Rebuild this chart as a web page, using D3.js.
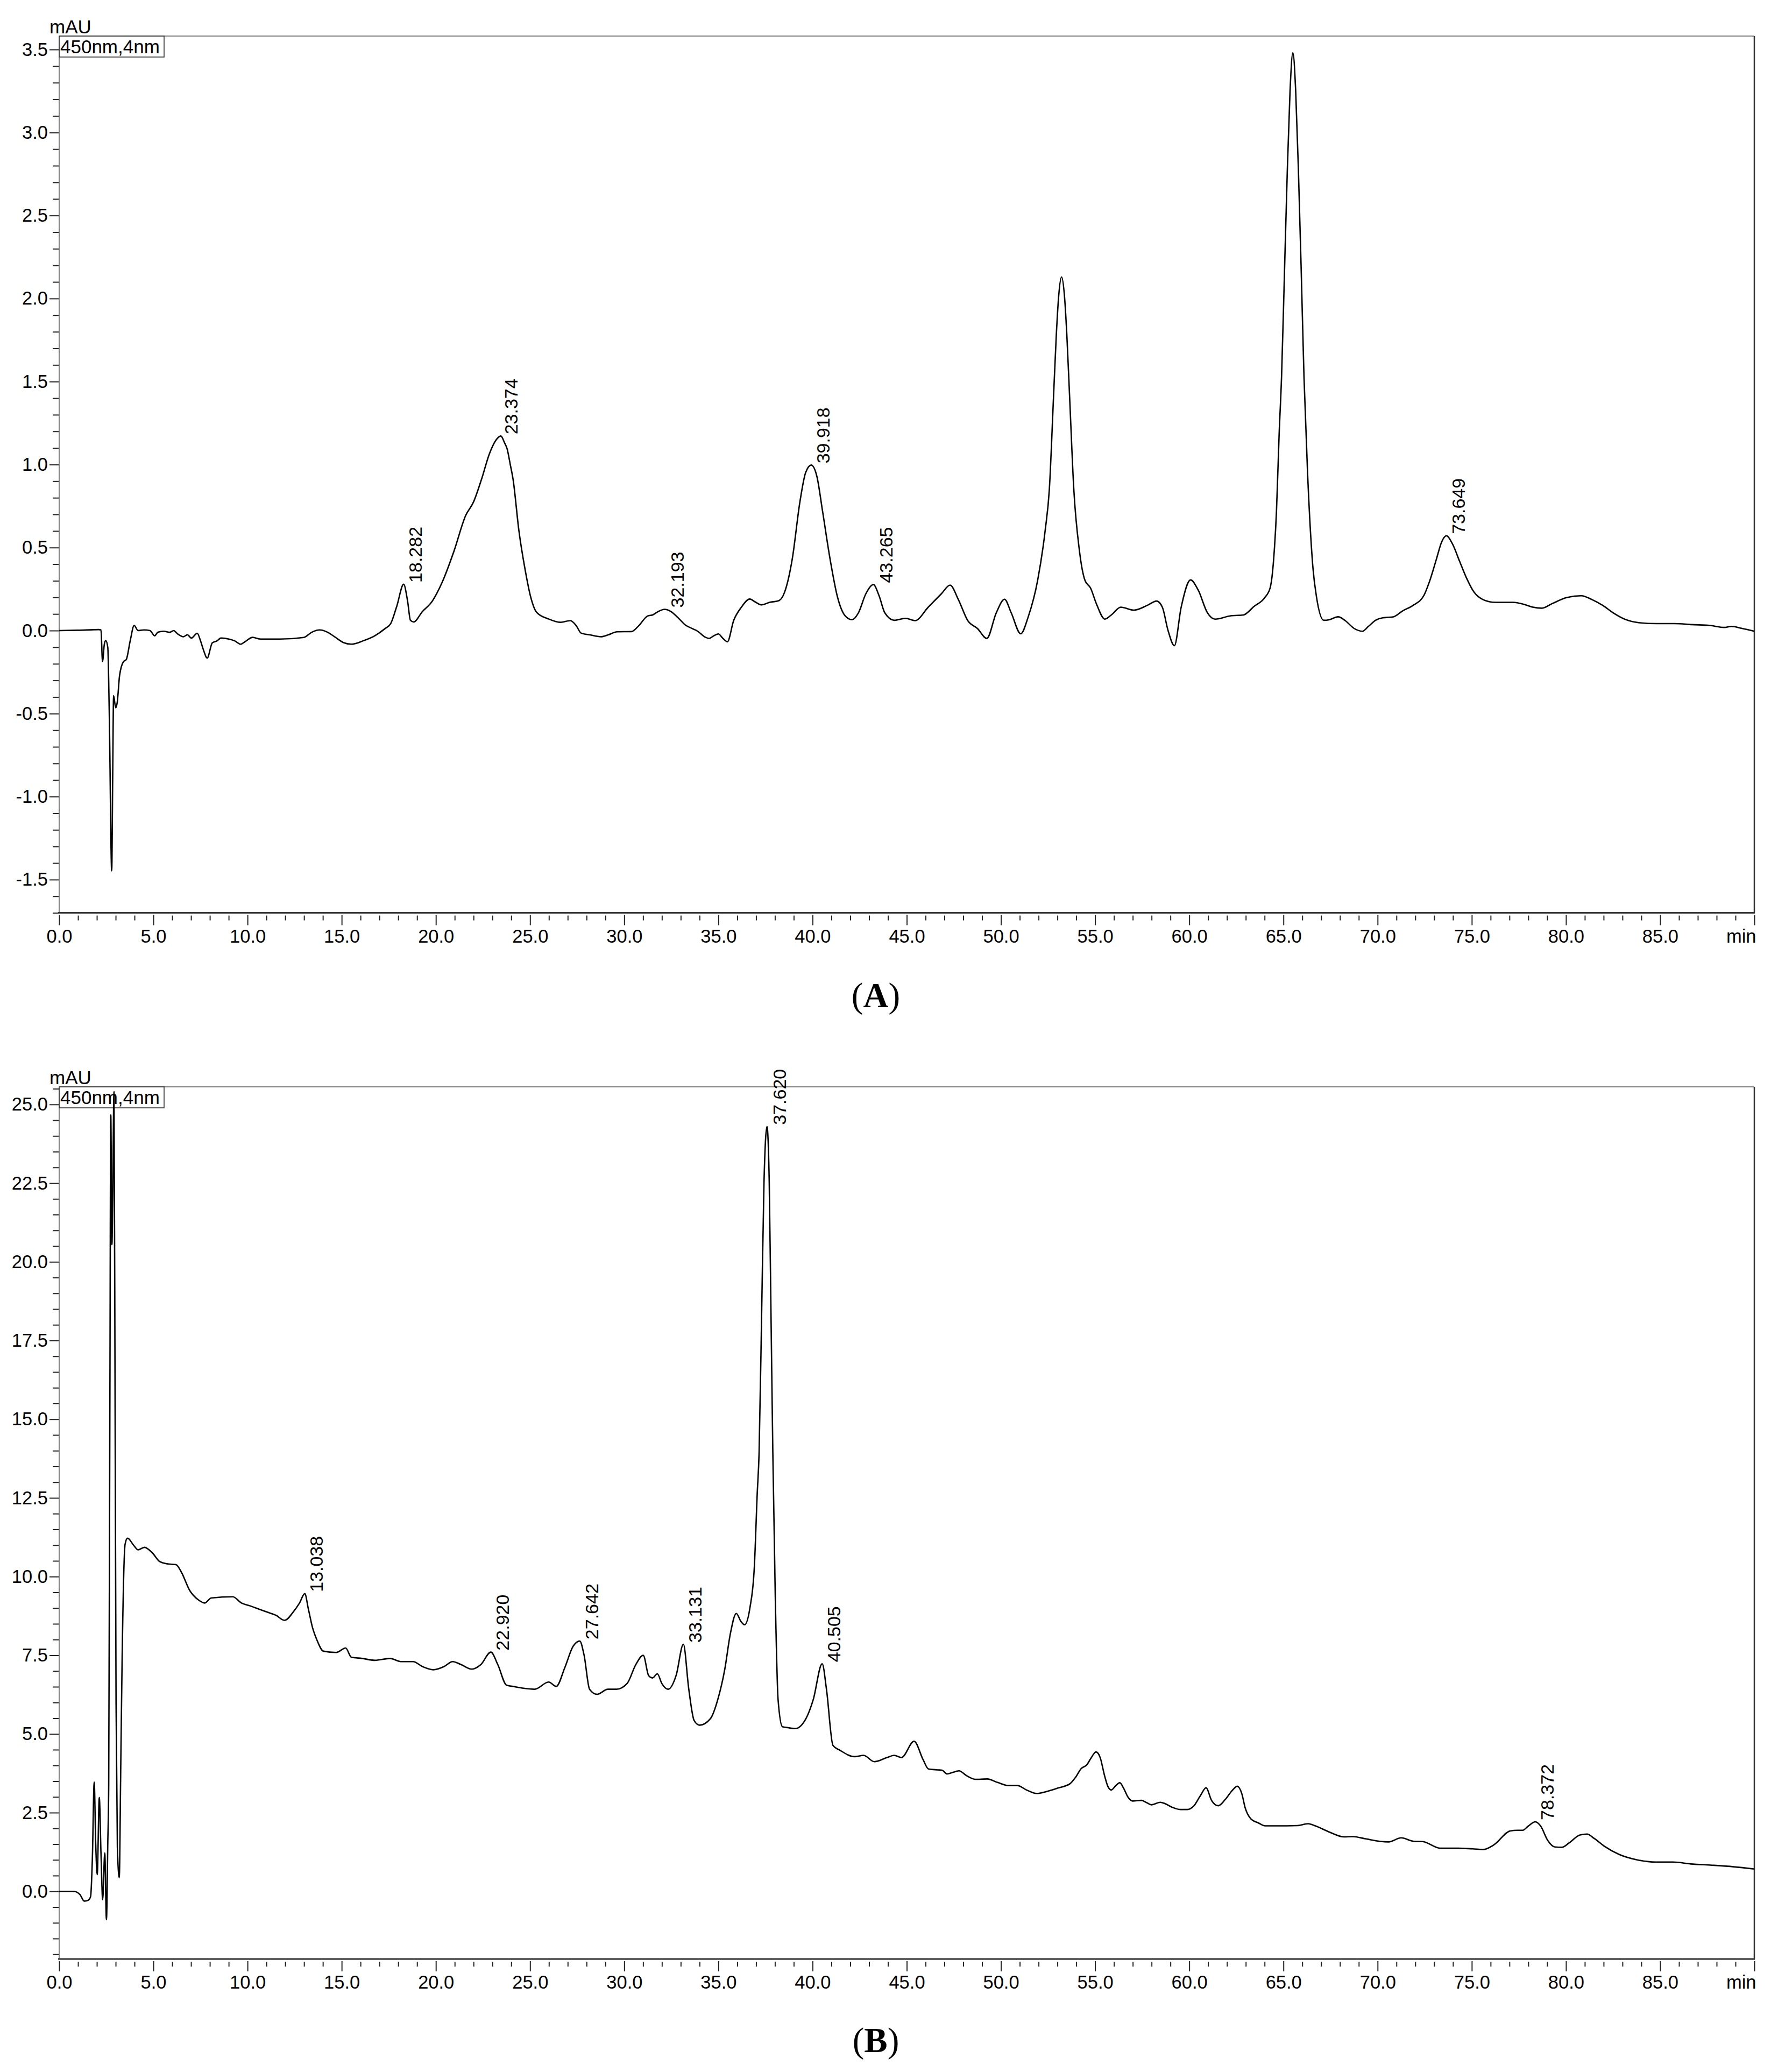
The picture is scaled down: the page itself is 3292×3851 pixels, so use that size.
<!DOCTYPE html>
<html>
<head>
<meta charset="utf-8">
<script src="https://cdn.jsdelivr.net/npm/d3@7"></script>
<style>
  html, body { margin: 0; padding: 0; background: #ffffff; }
  svg { display: block; }
</style>
</head>
<body>
<svg id="chart" width="3292" height="3851"></svg>
<script>
// ---------------- DATA ----------------
// Panel A: retention time (min) and absorbance (mAU)
const timeA = [0.00,1.00,2.10,2.22,2.30,2.40,2.47,2.58,2.66,2.79,2.84,2.89,3.00,3.08,3.21,3.42,3.56,3.77,3.98,4.19,4.50,4.82,5.07,5.24,5.55,5.87,6.08,6.29,6.60,6.81,7.02,7.33,7.50,7.65,7.86,8.13,8.38,8.59,9.01,9.32,9.64,9.85,10.27,10.69,11.73,12.99,13.41,13.83,14.25,14.67,15.09,15.51,16.13,16.76,17.29,17.60,17.92,18.29,18.50,18.65,18.82,19.28,19.80,20.33,20.95,21.58,22.00,22.42,22.84,23.26,23.45,23.65,23.78,23.95,24.10,24.41,24.73,25.04,25.35,25.98,26.61,27.14,27.45,27.71,28.19,28.76,29.14,29.62,30.38,30.76,31.24,31.52,31.81,32.14,32.48,32.86,33.24,33.62,33.90,34.29,34.50,34.76,35.00,35.24,35.48,35.81,36.19,36.67,36.92,37.28,37.72,38.22,38.52,38.92,39.33,39.63,39.93,40.23,40.53,40.93,41.33,41.73,42.09,42.43,42.83,43.23,43.53,43.84,44.34,44.94,45.44,46.14,46.84,47.30,47.74,48.24,48.75,49.25,49.75,50.19,50.55,51.05,51.45,51.95,52.35,52.57,52.79,52.94,53.07,53.22,53.37,53.50,53.65,53.87,54.16,54.46,54.76,55.06,55.52,55.86,56.36,57.06,57.77,58.27,58.57,58.87,59.21,59.57,60.07,60.47,60.97,61.37,62.20,62.87,63.44,64.01,64.29,64.48,64.63,64.77,64.90,65.05,65.20,65.35,65.50,65.65,65.80,65.95,66.09,66.28,66.57,66.76,67.14,67.42,67.90,68.28,68.75,69.19,69.51,69.89,70.27,70.84,71.32,71.88,72.45,72.74,73.12,73.40,73.65,73.97,74.35,74.73,75.11,75.59,76.25,77.20,77.77,78.25,78.72,79.29,80.05,80.81,81.38,81.95,82.52,83.18,83.85,84.80,85.75,86.70,87.64,88.40,88.78,89.35,90.00];
const signalA = [0.000,0.002,0.006,0.004,-0.186,-0.080,-0.060,-0.100,-0.500,-1.447,-0.900,-0.392,-0.465,-0.434,-0.268,-0.186,-0.175,-0.062,0.031,0.000,0.004,0.000,-0.031,-0.010,-0.004,-0.010,0.000,-0.020,-0.037,-0.025,-0.045,-0.016,-0.060,-0.113,-0.165,-0.074,-0.062,-0.045,-0.051,-0.062,-0.082,-0.068,-0.041,-0.051,-0.051,-0.041,-0.010,0.004,-0.010,-0.041,-0.072,-0.082,-0.062,-0.031,0.011,0.042,0.145,0.279,0.176,0.062,0.052,0.114,0.176,0.290,0.475,0.693,0.775,0.910,1.064,1.157,1.172,1.130,1.096,1.000,0.910,0.600,0.372,0.200,0.110,0.070,0.050,0.060,0.030,-0.015,-0.026,-0.037,-0.026,-0.007,-0.006,0.028,0.088,0.095,0.115,0.128,0.115,0.077,0.034,0.012,-0.004,-0.039,-0.047,-0.031,-0.020,-0.047,-0.067,0.061,0.136,0.190,0.175,0.155,0.170,0.181,0.233,0.430,0.777,0.951,0.997,0.928,0.719,0.430,0.199,0.089,0.066,0.106,0.222,0.277,0.210,0.106,0.062,0.074,0.060,0.141,0.222,0.274,0.187,0.060,0.013,-0.047,0.106,0.189,0.106,-0.019,0.083,0.303,0.604,0.850,1.400,1.780,2.020,2.130,2.020,1.780,1.400,0.850,0.488,0.303,0.256,0.164,0.069,0.094,0.141,0.123,0.152,0.178,0.141,0.002,-0.091,0.141,0.305,0.245,0.106,0.069,0.089,0.094,0.146,0.199,0.256,0.430,0.720,1.180,1.530,2.140,2.750,3.250,3.480,3.250,2.750,2.140,1.530,0.951,0.372,0.199,0.062,0.065,0.083,0.060,0.013,-0.004,0.025,0.062,0.077,0.083,0.118,0.152,0.210,0.291,0.430,0.534,0.571,0.523,0.418,0.314,0.233,0.187,0.170,0.170,0.158,0.141,0.135,0.164,0.199,0.210,0.187,0.152,0.106,0.066,0.048,0.042,0.042,0.036,0.031,0.019,0.025,0.013,-0.004];

// Panel B
const timeB = [0.00,0.76,1.10,1.33,1.55,1.67,1.76,1.86,1.94,2.02,2.13,2.22,2.31,2.42,2.51,2.58,2.63,2.69,2.74,2.80,2.84,2.91,2.97,3.02,3.09,3.19,3.27,3.34,3.50,3.63,3.96,4.19,4.53,4.98,5.33,5.79,6.20,6.48,6.93,7.39,7.73,8.07,9.22,9.68,10.14,10.59,11.05,11.51,11.97,12.42,12.76,13.04,13.23,13.45,13.68,14.03,14.71,15.21,15.51,16.08,16.77,17.57,18.14,18.79,19.29,19.86,20.43,20.89,21.35,21.91,22.38,22.92,23.29,23.75,24.09,25.24,25.99,26.39,26.84,27.29,27.64,27.87,28.16,28.56,29.13,29.58,30.16,30.61,31.01,31.30,31.50,31.76,32.00,32.33,32.76,33.14,33.43,33.71,34.00,34.58,34.96,35.34,35.63,35.95,36.20,36.39,36.68,36.91,37.06,37.16,37.30,37.42,37.58,37.70,37.80,37.89,38.02,38.17,38.40,38.69,39.07,39.65,40.03,40.51,40.74,41.08,41.46,42.23,42.71,43.28,43.95,44.33,44.72,45.39,45.87,46.15,46.63,46.86,47.15,47.45,47.78,48.16,48.63,49.28,49.82,50.41,50.88,51.36,51.89,52.42,53.02,53.67,53.96,54.26,54.56,54.77,55.05,55.27,55.50,55.68,55.86,56.10,56.31,56.51,56.75,56.98,57.46,57.73,57.99,58.46,58.70,59.06,59.53,59.89,60.24,60.60,60.89,61.19,61.54,61.90,62.26,62.55,62.79,62.97,63.26,63.68,64.03,64.63,65.74,66.31,66.69,67.45,68.21,68.68,69.35,70.11,70.58,71.25,71.91,72.39,73.33,74.28,75.04,75.61,76.18,77.04,77.42,77.70,77.99,78.37,78.65,79.03,79.41,79.79,80.17,80.74,81.12,81.50,82.07,82.83,83.78,84.73,85.68,86.63,87.77,88.91,90.00];
const signalB = [0.00,0.00,-0.10,-0.31,-0.28,-0.16,1.00,3.47,1.50,0.53,2.98,1.20,-0.26,1.22,-0.90,1.50,3.38,15.00,24.67,20.55,22.00,25.40,15.15,6.00,1.41,0.43,4.00,7.30,11.03,11.22,10.99,10.85,10.93,10.73,10.48,10.40,10.38,10.15,9.56,9.26,9.16,9.32,9.36,9.16,9.07,8.97,8.87,8.77,8.61,8.87,9.16,9.46,8.97,8.38,7.99,7.63,7.59,7.73,7.44,7.40,7.34,7.40,7.30,7.30,7.14,7.04,7.14,7.30,7.20,7.06,7.20,7.60,7.20,6.55,6.51,6.42,6.65,6.51,7.10,7.79,7.95,7.50,6.42,6.26,6.42,6.42,6.61,7.20,7.50,6.85,6.78,6.91,6.60,6.42,6.87,7.85,6.41,5.43,5.28,5.49,6.08,7.06,8.17,8.83,8.57,8.47,9.03,10.33,12.62,13.93,18.50,22.50,24.30,22.50,18.00,13.93,9.35,6.08,5.23,5.20,5.17,5.49,6.08,7.23,6.41,4.64,4.48,4.28,4.32,4.12,4.25,4.32,4.25,4.77,4.18,3.89,3.86,3.85,3.73,3.78,3.83,3.68,3.56,3.57,3.46,3.36,3.36,3.22,3.11,3.17,3.28,3.42,3.62,3.90,4.02,4.22,4.43,4.25,3.68,3.33,3.22,3.36,3.45,3.28,2.99,2.87,2.89,2.82,2.75,2.83,2.79,2.68,2.60,2.60,2.71,3.05,3.29,2.88,2.72,2.91,3.19,3.34,3.10,2.65,2.31,2.17,2.08,2.08,2.09,2.15,2.08,1.88,1.73,1.74,1.67,1.59,1.57,1.70,1.59,1.58,1.37,1.37,1.35,1.33,1.48,1.92,1.94,1.94,2.07,2.21,2.08,1.62,1.41,1.40,1.54,1.79,1.82,1.68,1.42,1.17,1.00,0.93,0.93,0.87,0.83,0.78,0.71];

// Peak annotations (retention time, apex height)
const peakTimesA = [18.282, 23.374, 32.193, 39.918, 43.265, 73.649];
const peakHeightsA = [0.279, 1.172, 0.128, 0.997, 0.277, 0.571];
const peakTimesB = [13.038, 22.920, 27.642, 33.131, 37.620, 40.505, 78.372];
const peakHeightsB = [9.46, 7.60, 7.95, 7.85, 24.30, 7.23, 2.21];

// Ticks
const xTicks = [0,5,10,15,20,25,30,35,40,45,50,55,60,65,70,75,80,85,90];
const xTickLabels = ["0.0","5.0","10.0","15.0","20.0","25.0","30.0","35.0","40.0","45.0","50.0","55.0","60.0","65.0","70.0","75.0","80.0","85.0","min"];
const yTicksA = [-1.5,-1.0,-0.5,0.0,0.5,1.0,1.5,2.0,2.5,3.0,3.5];
const yTickLabelsA = ["-1.5","-1.0","-0.5","0.0","0.5","1.0","1.5","2.0","2.5","3.0","3.5"];
const yTicksB = [0,2.5,5,7.5,10,12.5,15,17.5,20,22.5,25];
const yTickLabelsB = ["0.0","2.5","5.0","7.5","10.0","12.5","15.0","17.5","20.0","22.5","25.0"];

const unitLabel = "mAU";
const detectorLabel = "450nm,4nm";
const panelLetters = ["A", "B"];

// ---------------- DRAW ----------------
const svg = d3.select("#chart");
svg.append("rect").attr("width", 3292).attr("height", 3851).attr("fill", "#ffffff");

const FONT = "'Liberation Sans', Arial, Helvetica, sans-serif";

function range(a, b, step) {
  const out = [];
  const n = Math.round((b - a) / step);
  for (let i = 0; i <= n; i++) out.push(+(a + i * step).toFixed(4));
  return out;
}

function drawPanel(cfg) {
  const g = svg.append("g");
  const x = d3.scaleLinear().domain([0, 90]).range([cfg.left, cfg.right]);
  const y = d3.scaleLinear().domain(cfg.yDomain).range([cfg.bottom, cfg.top]);

  // minor x ticks
  const xMinor = range(0, 90, 1).filter(v => v % 5 !== 0);
  g.append("g")
    .attr("transform", `translate(0,${cfg.bottom + 5})`)
    .call(d3.axisBottom(x).tickValues(xMinor).tickSize(9).tickFormat(""))
    .call(s => s.select(".domain").remove())
    .call(s => s.selectAll("line").attr("stroke", "#222").attr("stroke-width", 2));

  // major x ticks
  const xAx = g.append("g")
    .attr("transform", `translate(0,${cfg.bottom + 4})`)
    .call(d3.axisBottom(x).tickValues(xTicks).tickSize(19).tickPadding(8)
      .tickFormat((d, i) => xTickLabels[i]));
  xAx.select(".domain").remove();
  xAx.selectAll("line").attr("stroke", "#222").attr("stroke-width", 2);
  xAx.selectAll("text").attr("font-family", FONT).attr("font-size", 34.5).attr("fill", "#000");
  xAx.selectAll(".tick").filter(d => d === 90).select("text")
    .attr("text-anchor", "end").attr("x", 3);

  // minor y ticks
  const yMinor = range(cfg.minorStart, cfg.minorEnd, cfg.minorStep)
    .filter(v => !cfg.yTicks.some(t => Math.abs(t - v) < 1e-6));
  g.append("g")
    .attr("transform", `translate(${cfg.left},0)`)
    .call(d3.axisLeft(y).tickValues(yMinor).tickSize(12).tickFormat(""))
    .call(s => s.select(".domain").remove())
    .call(s => s.selectAll("line").attr("stroke", "#222").attr("stroke-width", 2));

  // major y ticks
  const yAx = g.append("g")
    .attr("transform", `translate(${cfg.left},0)`)
    .call(d3.axisLeft(y).tickValues(cfg.yTicks).tickSize(18).tickPadding(3)
      .tickFormat((d, i) => cfg.yTickLabels[i]));
  yAx.select(".domain").remove();
  yAx.selectAll("line").attr("stroke", "#222").attr("stroke-width", 2);
  yAx.selectAll("text").attr("font-family", FONT).attr("font-size", 34.5).attr("fill", "#000");

  // frame
  g.append("line").attr("x1", cfg.left).attr("x2", cfg.right).attr("y1", cfg.top).attr("y2", cfg.top)
    .attr("stroke", "#808080").attr("stroke-width", 2);
  g.append("line").attr("x1", cfg.left).attr("x2", cfg.left).attr("y1", cfg.top).attr("y2", cfg.bottom)
    .attr("stroke", "#808080").attr("stroke-width", 2);
  g.append("line").attr("x1", cfg.right).attr("x2", cfg.right).attr("y1", cfg.top).attr("y2", cfg.bottom)
    .attr("stroke", "#333").attr("stroke-width", 2.5);
  g.append("line").attr("x1", cfg.left - 2).attr("x2", cfg.right + 1).attr("y1", cfg.bottom).attr("y2", cfg.bottom)
    .attr("stroke", "#333").attr("stroke-width", 3);

  // unit label and detector box
  g.append("text").attr("x", cfg.left - 18).attr("y", cfg.top - 5)
    .attr("font-family", FONT).attr("font-size", 35).attr("fill", "#000").text(unitLabel);
  g.append("rect").attr("x", cfg.left).attr("y", cfg.top).attr("width", 195).attr("height", 39)
    .attr("fill", "none").attr("stroke", "#333").attr("stroke-width", 1.6);
  g.append("text").attr("x", cfg.left + 2).attr("y", cfg.top + 32)
    .attr("font-family", FONT).attr("font-size", 35).attr("fill", "#000").text(detectorLabel);

  // trace
  const pts = cfg.time.map((t, i) => [t, cfg.signal[i]]);
  g.append("path").datum(pts)
    .attr("fill", "none").attr("stroke", "#000").attr("stroke-width", 2.6)
    .attr("stroke-linejoin", "round")
    .attr("d", d3.line().x(d => x(d[0])).y(d => y(d[1])).curve(d3.curveMonotoneX));

  // peak labels
  cfg.peakTimes.forEach((t, i) => {
    const px = x(t) + 34, py = y(cfg.peakHeights[i]) - 3;
    g.append("text")
      .attr("transform", `translate(${px},${py}) rotate(-90)`)
      .attr("font-family", FONT).attr("font-size", 34).attr("fill", "#000")
      .text(t.toFixed(3));
  });

  // panel letter
  const lt = g.append("text").attr("x", 1628).attr("y", cfg.letterY)
    .attr("text-anchor", "middle").attr("font-family", "'Liberation Serif', 'Times New Roman', serif")
    .attr("font-size", 65).attr("fill", "#000");
  lt.append("tspan").text("(");
  lt.append("tspan").attr("font-weight", "bold").text(cfg.letter);
  lt.append("tspan").text(")");
}

drawPanel({
  left: 110, right: 3261, top: 67, bottom: 1696.6,
  yDomain: [-1.7, 3.581],
  yTicks: yTicksA, yTickLabels: yTickLabelsA,
  minorStart: -1.7, minorEnd: 3.5, minorStep: 0.1,
  time: timeA, signal: signalA,
  peakTimes: peakTimesA, peakHeights: peakHeightsA,
  letter: panelLetters[0], letterY: 1872
});

drawPanel({
  left: 110, right: 3261, top: 2020, bottom: 3641,
  yDomain: [-2.15, 25.56],
  yTicks: yTicksB, yTickLabels: yTickLabelsB,
  minorStart: -2.0, minorEnd: 25.5, minorStep: 0.5,
  time: timeB, signal: signalB,
  peakTimes: peakTimesB, peakHeights: peakHeightsB,
  letter: panelLetters[1], letterY: 3814
});
</script>
</body>
</html>
